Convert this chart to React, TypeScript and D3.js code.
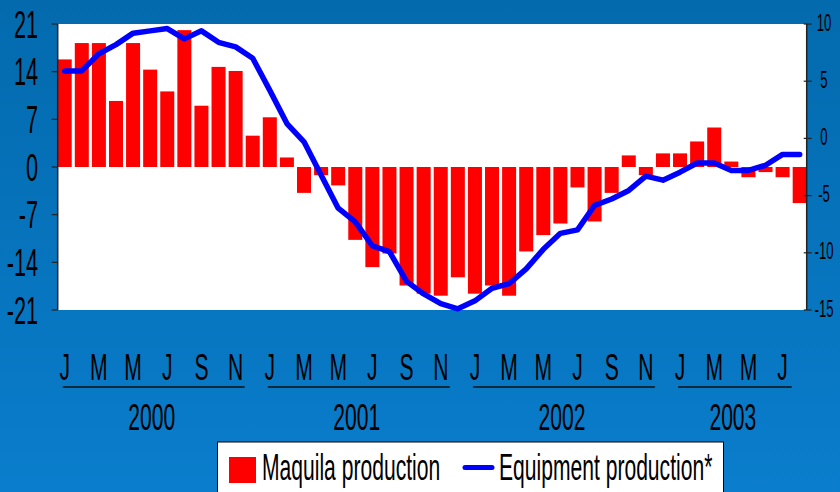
import React from "react";
import * as d3 from "d3";

const categories = [
  "2000-01","2000-02","2000-03","2000-04","2000-05","2000-06","2000-07","2000-08","2000-09","2000-10","2000-11","2000-12",
  "2001-01","2001-02","2001-03","2001-04","2001-05","2001-06","2001-07","2001-08","2001-09","2001-10","2001-11","2001-12",
  "2002-01","2002-02","2002-03","2002-04","2002-05","2002-06","2002-07","2002-08","2002-09","2002-10","2002-11","2002-12",
  "2003-01","2003-02","2003-03","2003-04","2003-05","2003-06","2003-07","2003-08",
];

const maquila = [
  15.8, 18.2, 18.2, 9.7, 18.2, 14.3, 11.1, 20.1, 9.0, 14.7, 14.1, 4.6,
  7.3, 1.4, -3.8, -1.2, -2.7, -10.7, -14.7, -12.7, -17.4, -18.6, -18.9, -16.2,
  -18.6, -17.4, -18.9, -12.4, -10.0, -8.3, -3.0, -8.0, -3.8, 1.7, -1.2, 2.0,
  2.0, 3.75, 5.8, 0.8, -1.5, -0.75, -1.5, -5.3,
];

const equipment = [
  5.9, 5.9, 7.4, 8.2, 9.2, 9.4, 9.6, 8.7, 9.4, 8.4, 8.0, 7.0,
  4.2, 1.3, -0.3, -3.2, -6.1, -7.3, -9.4, -9.9, -12.5, -13.6, -14.45, -14.9,
  -14.2, -13.1, -12.7, -11.4, -9.7, -8.3, -8.0, -5.85, -5.3, -4.55, -3.3, -3.65,
  -2.95, -2.15, -2.15, -2.8, -2.8, -2.35, -1.4, -1.4,
];

const leftTicks = [21, 14, 7, 0, -7, -14, -21];
const rightTicks = [10, 5, 0, -5, -10, -15];
const monthLetters = ["J", "F", "M", "A", "M", "J", "J", "A", "S", "O", "N", "D"];
const years = ["2000", "2001", "2002", "2003"];
const lastLabelledIndex = 42;
const seriesNames = ["Maquila production", "Equipment production*"];

const W = 840, H = 492;
const plot = { left: 57.7, right: 806.7, top: 24, bottom: 310 };
const SX = 0.57;
const FONT = "'Liberation Sans', Arial, sans-serif";

function T({ x, y, size, anchor = "start", children }: any) {
  return (
    <text
      transform={`translate(${x},${y}) scale(${SX},1)`}
      textAnchor={anchor}
      fontSize={size}
      fontFamily={FONT}
      fill="#000"
    >
      {children}
    </text>
  );
}

export default function App() {
  const x = d3.scaleBand<number>()
    .domain(categories.map((_, i) => i))
    .range([plot.left, plot.right])
    .paddingInner(0.18)
    .paddingOuter(0);
  const yL = d3.scaleLinear().domain([-21, 21]).range([plot.bottom, plot.top]);
  const yR = d3.scaleLinear().domain([-15, 10]).range([plot.bottom, plot.top]);
  const cx = (i: number) => (x(i) as number) + x.bandwidth() / 2;

  const line = d3.line<number>()
    .x((_, i) => cx(i))
    .y((d) => yR(d));

  const yearGroups = years.map((yr) => {
    const idx = categories.map((c, i) => [c, i] as [string, number]).filter(([c]) => c.startsWith(yr)).map(([, i]) => i);
    const first = idx[0];
    const last = idx[idx.length - 1];
    const x0 = (x(first) as number) + 5;
    const x1 = (x(last) as number) - 1;
    return { yr, x0, x1 };
  });

  return (
    <svg width={W} height={H} style={{ position: "absolute", left: 0, top: 0 }}>
      <defs>
        <linearGradient id="bg" x1="0" y1="0" x2="0" y2="1">
          <stop offset="0" stopColor="#036AAD" />
          <stop offset="1" stopColor="#0A7DCC" />
        </linearGradient>
      </defs>
      <rect x={0} y={0} width={W} height={H} fill="url(#bg)" />
      <rect x={plot.left} y={plot.top} width={plot.right - plot.left} height={plot.bottom - plot.top} fill="#fff" />

      {maquila.map((v, i) => (
        <rect
          key={i}
          x={x(i)}
          y={yL(Math.max(0, v))}
          width={x.bandwidth()}
          height={Math.abs(yL(v) - yL(0))}
          fill="#FF0000"
        />
      ))}

      <path d={line(equipment) || ""} fill="none" stroke="#0000FF" strokeWidth={5.5} strokeLinejoin="round" strokeLinecap="round" />

      {/* left axis */}
      <line x1={plot.left} x2={plot.left} y1={plot.top} y2={plot.bottom} stroke="#222" strokeWidth={1.5} />
      {leftTicks.map((t) => (
        <g key={t}>
          <line x1={plot.left - 6} x2={plot.left} y1={yL(t)} y2={yL(t)} stroke="#222" strokeWidth={1.2} />
          <T x={38} y={yL(t) + 13.5} size={38} anchor="end">{String(t)}</T>
        </g>
      ))}

      {/* right axis */}
      <line x1={plot.right} x2={plot.right} y1={plot.top} y2={plot.bottom} stroke="#222" strokeWidth={1.5} />
      {rightTicks.map((t) => (
        <g key={t}>
          <line x1={plot.right - 3} x2={plot.right + 5} y1={yR(t)} y2={yR(t)} stroke="#222" strokeWidth={1.2} />
          <T x={824} y={yR(t) + 6.5} size={23} anchor="middle">{String(t)}</T>
        </g>
      ))}

      {/* month labels */}
      {categories.map((c, i) => {
        const m = parseInt(c.slice(5), 10) - 1;
        if (m % 2 !== 0 || i > lastLabelledIndex) return null;
        return <T key={c} x={cx(i)} y={380} size={37} anchor="middle">{monthLetters[m]}</T>;
      })}

      {/* year groups */}
      {yearGroups.map((g) => (
        <g key={g.yr}>
          <line x1={g.x0} x2={g.x1} y1={387} y2={387} stroke="#111" strokeWidth={1.5} />
          <T x={(g.x0 + g.x1) / 2 - 2} y={430} size={37} anchor="middle">{g.yr}</T>
        </g>
      ))}

      {/* legend */}
      <rect x={217.5} y={442} width={506} height={60} fill="#fff" stroke="#000" strokeWidth={1} />
      <rect x={229} y={457} width={27} height={26} fill="#FF0000" />
      <T x={262} y={480} size={37}>{seriesNames[0]}</T>
      <line x1={465} x2={492} y1={467.5} y2={467.5} stroke="#0000FF" strokeWidth={5} strokeLinecap="round" />
      <T x={499} y={480} size={37}>{seriesNames[1]}</T>
    </svg>
  );
}
